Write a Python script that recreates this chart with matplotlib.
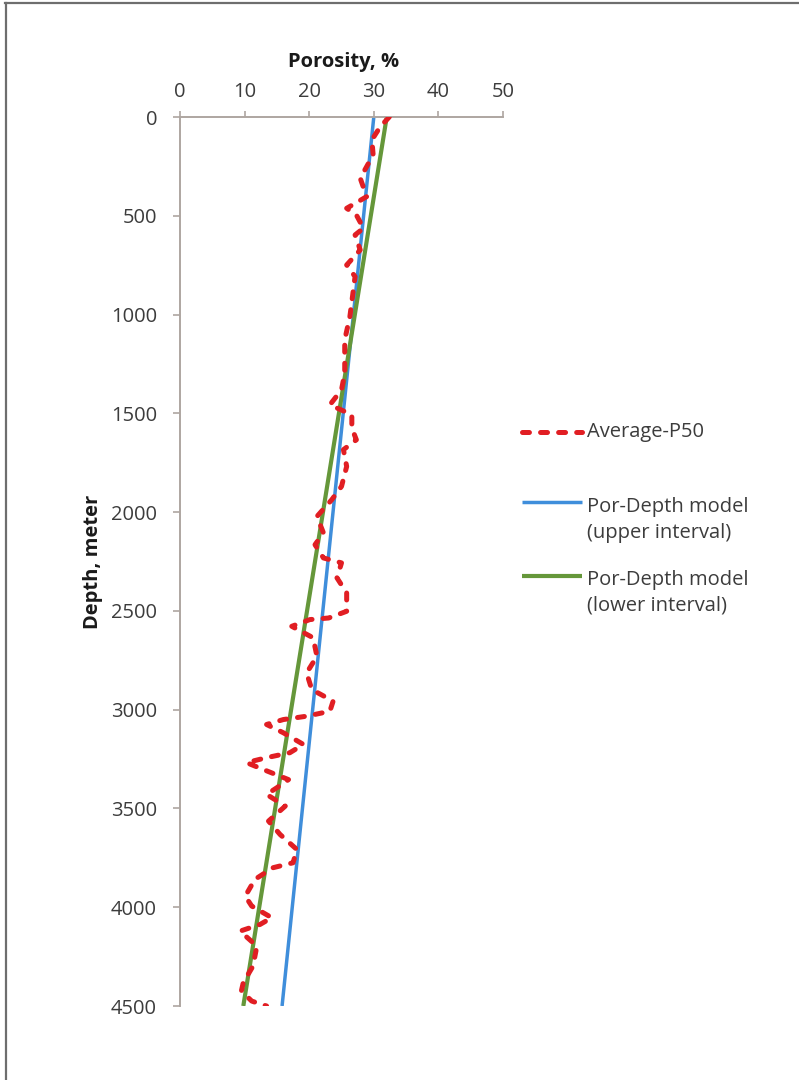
import matplotlib
matplotlib.use("Agg")
import matplotlib.pyplot as plt
from matplotlib.lines import Line2D

# Average P50 porosity log (depth in metres, porosity in %)
depth_p50 = [0, 49, 116, 192, 310, 403, 462, 496, 563, 597, 673, 749, 808, 884,
             1010, 1128, 1179, 1296, 1381, 1457, 1507, 1574, 1634, 1684, 1769,
             1870, 1937, 2022, 2105, 2165, 2232, 2257, 2333, 2409, 2502, 2536,
             2544, 2578, 2636, 2730, 2814, 2898, 2957, 3008, 3033, 3050, 3075,
             3117, 3176, 3218, 3243, 3268, 3303, 3354, 3395, 3429, 3488, 3564,
             3632, 3708, 3775, 3800, 3859, 3944, 3994, 4053, 4087, 4121, 4197,
             4298, 4381, 4424, 4475, 4500]
porosity_p50 = [32.4, 31.0, 29.7, 29.9, 27.9, 28.9, 25.8, 27.3, 28.4, 27.1, 27.9,
                25.8, 27.1, 26.8, 26.3, 25.5, 25.5, 25.5, 25.0, 23.2, 26.6, 26.6,
                27.3, 25.3, 25.8, 25.0, 23.5, 21.2, 22.2, 20.9, 22.2, 25.0, 24.3,
                25.8, 25.8, 23.0, 20.1, 17.3, 20.6, 21.2, 19.6, 20.4, 23.7, 23.2,
                19.6, 16.0, 13.4, 16.0, 19.1, 17.0, 13.4, 10.3, 12.9, 16.8, 15.0,
                13.4, 16.3, 13.7, 15.5, 18.1, 17.5, 14.4, 11.6, 10.1, 11.1, 14.2,
                12.4, 9.3, 11.9, 11.3, 9.8, 9.5, 11.1, 13.4]

# Porosity-depth trend models (end points)
model_depth = [0, 4500]
upper_model = [30.0, 15.8]
lower_model = [32.0, 9.8]

x_ticks = [0, 10, 20, 30, 40, 50]
y_ticks = [0, 500, 1000, 1500, 2000, 2500, 3000, 3500, 4000, 4500]

series_labels = ["Average-P50",
                 "Por-Depth model\n(upper interval)",
                 "Por-Depth model\n(lower interval)"]

plt.rcParams['font.family'] = ['Open Sans', 'DejaVu Sans']
plt.rcParams['lines.scale_dashes'] = False

W, H = 799, 1080
fig = plt.figure(figsize=(W / 100, H / 100), dpi=100)


def fx(px):
    return px / W


def fy(py):
    return 1 - py / H


ax = fig.add_axes([fx(180), fy(1006), fx(503) - fx(180), fy(117) - fy(1006)])

red_style = dict(color='#e11e23', lw=3.6, dashes=(5, 8), dash_capstyle='round')
blue_style = dict(color='#3f8edb', lw=2.5, solid_capstyle='butt')
green_style = dict(color='#65973a', lw=3.0, solid_capstyle='butt')

ax.plot(upper_model, model_depth, zorder=2, **blue_style)
ax.plot(lower_model, model_depth, zorder=2.5, **green_style)
ax.plot(porosity_p50, depth_p50, zorder=3, **red_style)

ax.set_xlim(0, 50)
ax.set_ylim(4500, 0)
ax.set_xticks(x_ticks)
ax.set_yticks(y_ticks)
ax.xaxis.tick_top()
ax.xaxis.set_label_position('top')

spine_color = '#aea6a1'
for side in ('right', 'bottom'):
    ax.spines[side].set_visible(False)
for side in ('left', 'top'):
    ax.spines[side].set_color(spine_color)
    ax.spines[side].set_linewidth(1.4)

label_color = '#3c3c3c'
ax.tick_params(axis='x', top=True, bottom=False, direction='out', length=4,
               width=1.2, color=spine_color, pad=7, labelsize=14.5,
               labelcolor=label_color)
ax.tick_params(axis='y', direction='out', length=5, width=1.2,
               color=spine_color, pad=11.5, labelsize=14.5,
               labelcolor=label_color)

ax.set_xlabel('Porosity, %', fontsize=14.5, fontweight='bold', color='#1a1a1a')
ax.xaxis.set_label_coords(0.505, 1.056)
ax.set_ylabel('Depth, meter', fontsize=14.5, fontweight='bold', color='#1a1a1a')
ax.yaxis.set_label_coords(-0.238, 0.5)

# Legend keys and labels to the right of the plot
legend_rows = [
    (red_style, 432, [(series_labels[0], 432)]),
    (blue_style, 502, [(line, y) for line, y in zip(series_labels[1].split('\n'), (507, 533))]),
    (green_style, 576, [(line, y) for line, y in zip(series_labels[2].split('\n'), (580, 606))]),
]
for style, yk, texts in legend_rows:
    fig.add_artist(Line2D([fx(522), fx(582)], [fy(yk), fy(yk)],
                          transform=fig.transFigure, **style))
    for txt, yt in texts:
        fig.text(fx(587), fy(yt), txt, fontsize=14.5, color=label_color,
                 ha='left', va='center')

# Frame lines along the top and left edges of the figure
fig.add_artist(Line2D([fx(5), 1], [fy(2.5), fy(2.5)], transform=fig.transFigure,
                      color='#6e6e6e', lw=1.6))
fig.add_artist(Line2D([fx(5.5), fx(5.5)], [0, fy(2.5)], transform=fig.transFigure,
                      color='#6e6e6e', lw=1.6))

fig.savefig('out.png', dpi=100, facecolor='white')
